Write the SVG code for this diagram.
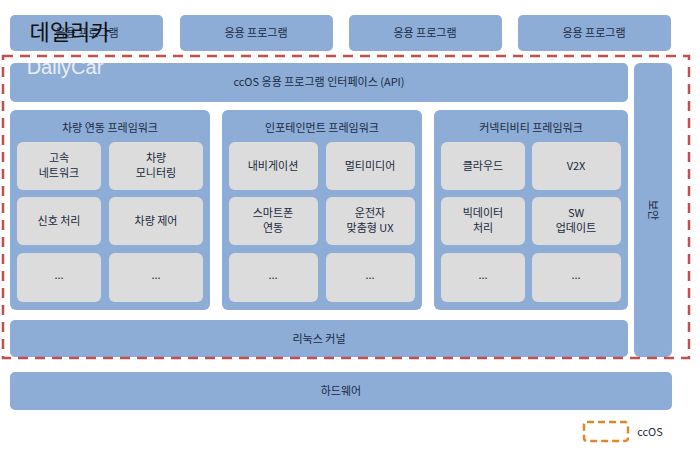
<svg xmlns="http://www.w3.org/2000/svg" width="700" height="461" viewBox="0 0 700 461">
<style>
.b{fill:#8eadd6}
.c{fill:#dcdcdc}
.f{fill:#a3bfe2}
text{font-family:"Noto Sans CJK KR","Noto Sans",sans-serif;font-size:11px;fill:#1a2a40;text-anchor:middle}
</style>
<rect width="700" height="461" fill="#fff"/>
<g id="apps">
<rect class="b" x="10" y="15" width="153" height="36" rx="5"/>
<rect class="b" x="180" y="15" width="153" height="36" rx="5"/><text x="256" y="37">응용 프로그램</text>
<rect class="b" x="349" y="15" width="153" height="36" rx="5"/><text x="425" y="37">응용 프로그램</text>
<rect class="b" x="518" y="15" width="153" height="36" rx="5"/><text x="594" y="37">응용 프로그램</text>
<text x="87" y="37">응용 프로그램</text>
</g>
<g id="api"><rect class="b" x="10" y="63" width="618" height="39" rx="5"/><text x="319" y="86">ccOS 응용 프로그램 인터페이스 (API)</text></g>
<g id="fw1">
<rect class="b" x="10" y="110" width="200" height="200" rx="6"/><text x="110" y="132">차량 연동 프레임워크</text>
<rect class="c" x="17" y="142" width="84" height="48" rx="6"/><text x="59" y="162">고속</text><text x="59" y="177">네트워크</text>
<rect class="c" x="109" y="142" width="94" height="48" rx="6"/><text x="156" y="162">차량</text><text x="156" y="177">모니터링</text>
<rect class="c" x="17" y="197" width="84" height="48" rx="6"/><text x="59" y="225">신호 처리</text>
<rect class="c" x="109" y="197" width="94" height="48" rx="6"/><text x="156" y="225">차량 제어</text>
<rect class="c" x="17" y="253" width="84" height="49" rx="6"/><text x="59" y="279">...</text>
<rect class="c" x="109" y="253" width="94" height="49" rx="6"/><text x="156" y="279">...</text>
</g>
<g id="fw2">
<rect class="b" x="222" y="110" width="200" height="200" rx="6"/><text x="322" y="132">인포테인먼트 프레임워크</text>
<rect class="c" x="229" y="142" width="89" height="48" rx="6"/><text x="273" y="170">내비게이션</text>
<rect class="c" x="326" y="142" width="89" height="48" rx="6"/><text x="370" y="170">멀티미디어</text>
<rect class="c" x="229" y="197" width="89" height="48" rx="6"/><text x="273" y="217">스마트폰</text><text x="273" y="232">연동</text>
<rect class="c" x="326" y="197" width="89" height="48" rx="6"/><text x="370" y="217">운전자</text><text x="370" y="232">맞춤형 UX</text>
<rect class="c" x="229" y="253" width="89" height="49" rx="6"/><text x="273" y="279">...</text>
<rect class="c" x="326" y="253" width="89" height="49" rx="6"/><text x="370" y="279">...</text>
</g>
<g id="fw3">
<rect class="b" x="434" y="110" width="194" height="200" rx="6"/><text x="531" y="132">커넥티비티 프레임워크</text>
<rect class="c" x="441" y="142" width="84" height="48" rx="6"/><text x="483" y="170">클라우드</text>
<rect class="c" x="532" y="142" width="89" height="48" rx="6"/><text x="576" y="170">V2X</text>
<rect class="c" x="441" y="197" width="84" height="48" rx="6"/><text x="483" y="217">빅데이터</text><text x="483" y="232">처리</text>
<rect class="c" x="532" y="197" width="89" height="48" rx="6"/><text x="576" y="217">SW</text><text x="576" y="232">업데이트</text>
<rect class="c" x="441" y="253" width="84" height="49" rx="6"/><text x="483" y="279">...</text>
<rect class="c" x="532" y="253" width="89" height="49" rx="6"/><text x="576" y="279">...</text>
</g>
<g id="security"><rect class="b" x="634" y="63" width="38" height="294" rx="6"/><text transform="translate(649 210) rotate(90)">보안</text></g>
<g id="linux"><rect class="b" x="10" y="320" width="618" height="37" rx="5"/><text x="319" y="343">리눅스 커널</text></g>
<g id="hw"><rect class="b" x="10" y="372" width="662" height="38" rx="5"/><text x="341" y="395">하드웨어</text></g>
<rect x="3" y="56" width="686" height="302" fill="none" stroke="#c0504d" stroke-width="2.5" stroke-dasharray="10 7"/>
<g id="legend"><rect x="584" y="422" width="44" height="19" rx="3" fill="none" stroke="#e0872a" stroke-width="2.5" stroke-dasharray="7 4"/><text x="650" y="436" style="text-anchor:middle">ccOS</text></g>
<text x="70" y="40" style="font-size:22px;fill:#111;text-anchor:middle">데일리카</text>
<text x="65" y="74" style="font-size:20px;fill:#fff;opacity:.8;text-anchor:middle;font-family:'Liberation Sans',sans-serif">DailyCar</text>
</svg>
